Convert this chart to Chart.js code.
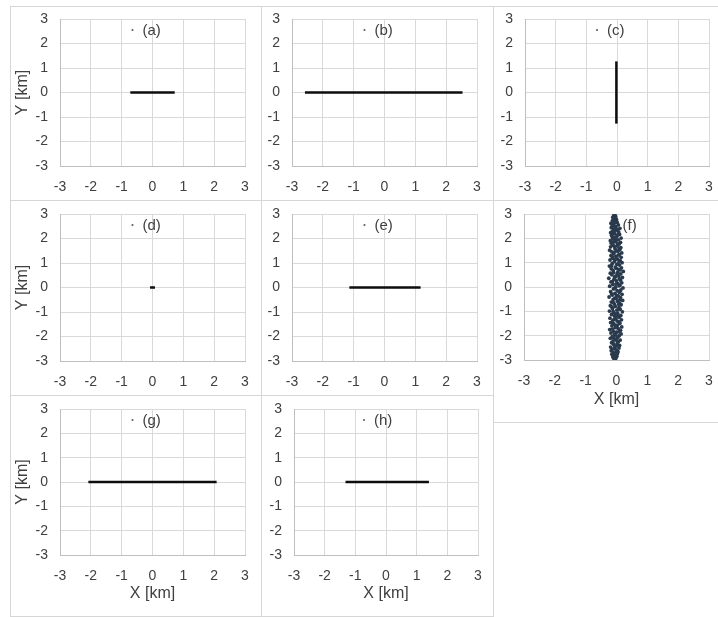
<!DOCTYPE html>
<html>
<head>
<meta charset="utf-8">
<script src="https://cdn.jsdelivr.net/npm/chart.js@4.4.0/dist/chart.umd.min.js"></script>
<style>
body { margin: 0; background: #fff; width: 718px; height: 617px; position: relative; overflow: hidden; }
.box { position: absolute; border: 1px solid #d6d6d6; box-sizing: border-box; }
canvas { position: absolute; }
</style>
</head>
<body>
<script>
// axis range (km)
var axisMin = -3, axisMax = 3, axisStep = 1;

var panelNames = ["(a)", "(b)", "(c)", "(d)", "(e)", "(f)", "(g)", "(h)"];

// line end points
var aX = [-0.72, 0.72];   var aY = [0, 0];
var bX = [-2.58, 2.53];   var bY = [0, 0];
var cX = [-0.02, -0.02];  var cY = [-1.27, 1.27];
var dX = [-0.08, 0.08];   var dY = [0, 0];
var eX = [-1.14, 1.17];   var eY = [0, 0];
var gX = [-2.08, 2.08];   var gY = [0, 0];
var hX = [-1.32, 1.40];   var hY = [0, 0];

// (f) scatter cloud, values estimated by eye
var fX = [
 -0.08,-0.02,-0.12,0.01,-0.06,-0.15,0.03,-0.10,0.05,-0.17,
 -0.01,-0.13,0.08,-0.19,-0.05,0.10,-0.09,0.02,-0.16,0.06,
 -0.11,0.12,-0.03,-0.20,0.04,-0.14,0.09,-0.07,0.15,-0.18,
 0.00,-0.10,0.13,-0.22,0.06,-0.04,0.17,-0.15,0.03,-0.08,
 0.11,-0.19,0.07,-0.12,0.16,-0.02,-0.21,0.09,-0.06,0.14,
 -0.16,0.04,-0.09,0.19,-0.23,0.01,0.12,-0.13,0.08,-0.04,
 -0.20,0.15,-0.07,0.10,-0.17,0.03,0.20,-0.11,-0.01,0.13,
 -0.24,0.06,-0.14,0.18,-0.05,0.09,-0.19,0.02,0.14,-0.10,
 0.21,-0.03,-0.22,0.11,-0.12,0.05,0.17,-0.18,0.00,0.13,
 -0.08,-0.25,0.19,-0.02,0.08,-0.15,0.14,-0.20,0.04,0.22,
 -0.11,0.07,-0.17,0.16,-0.04,-0.23,0.10,0.01,-0.14,0.18,
 -0.07,0.12,-0.21,0.03,-0.12,0.15,-0.02,-0.18,0.09,-0.09,
 0.17,-0.15,0.05,-0.22,0.11,-0.05,0.14,-0.19,0.02,-0.11,
 0.08,-0.17,0.13,-0.03,-0.20,0.06,-0.12,0.15,-0.08,0.01,
 -0.16,0.10,-0.06,-0.19,0.07,-0.13,0.03,-0.09,0.11,-0.17,
 -0.02,-0.14,0.06,-0.10,-0.18,0.02,-0.07,-0.13,0.00,-0.09,
 -0.05,-0.12,-0.03,-0.08,-0.06,
 -0.04,-0.11,-0.01,-0.07,0.00,-0.12,0.01,-0.09,-0.02,0.08,
 -0.13,-0.01,-0.10,0.02,-0.08,0.04,-0.03,-0.11,0.06,-0.15,
 0.07,-0.10,0.10,-0.06,0.00,-0.16,0.11,-0.07,0.08,-0.02,
 -0.13,0.09,-0.06,0.02,-0.09,0.12,-0.01,-0.16,0.05,0.09,
 -0.04,-0.14,0.06,-0.08,-0.01,0.08,-0.07,0.03,-0.10,-0.02,
 -0.13,0.04,-0.11,-0.04,-0.01,-0.07,-0.12,-0.05,-0.10,-0.02,-0.09
];
var fY = [
 -2.97,-2.93,-2.88,-2.85,-2.81,-2.76,-2.74,-2.70,-2.66,-2.62,
 -2.58,-2.55,-2.51,-2.47,-2.44,-2.40,-2.36,-2.33,-2.29,-2.25,
 -2.22,-2.18,-2.15,-2.11,-2.07,-2.04,-2.00,-1.96,-1.93,-1.89,
 -1.86,-1.82,-1.78,-1.75,-1.71,-1.67,-1.64,-1.60,-1.57,-1.53,
 -1.49,-1.46,-1.42,-1.38,-1.35,-1.31,-1.28,-1.24,-1.20,-1.17,
 -1.13,-1.09,-1.06,-1.02,-0.99,-0.95,-0.91,-0.88,-0.84,-0.80,
 -0.77,-0.73,-0.70,-0.66,-0.62,-0.59,-0.55,-0.51,-0.48,-0.44,
 -0.41,-0.37,-0.33,-0.30,-0.26,-0.22,-0.19,-0.15,-0.12,-0.08,
 -0.04,-0.01,0.03,0.07,0.10,0.14,0.17,0.21,0.25,0.28,
 0.32,0.36,0.39,0.43,0.46,0.50,0.54,0.57,0.61,0.64,
 0.68,0.72,0.75,0.79,0.82,0.86,0.90,0.93,0.97,1.00,
 1.04,1.08,1.11,1.15,1.18,1.22,1.26,1.29,1.33,1.36,
 1.40,1.44,1.47,1.51,1.54,1.58,1.62,1.65,1.69,1.72,
 1.76,1.80,1.83,1.87,1.90,1.94,1.98,2.01,2.05,2.08,
 2.12,2.16,2.19,2.23,2.26,2.30,2.34,2.37,2.41,2.44,
 2.48,2.52,2.55,2.59,2.62,2.66,2.70,2.73,2.77,2.80,
 2.84,2.87,2.91,2.94,2.97,
 -2.90,-2.79,-2.68,-2.53,-2.42,-2.31,-2.20,-2.09,-1.98,-1.84,
 -1.73,-1.62,-1.51,-1.40,-1.33,-1.22,-1.11,-1.00,-0.93,-0.82,
 -0.71,-0.64,-0.53,-0.46,-0.35,-0.28,-0.17,-0.06,0.05,0.12,
 0.23,0.34,0.41,0.52,0.59,0.70,0.77,0.88,0.95,1.06,
 1.13,1.24,1.31,1.42,1.49,1.60,1.67,1.78,1.85,1.96,
 2.03,2.14,2.21,2.32,2.39,2.50,2.57,2.64,2.75,2.82,2.89
];

var seriesX = [aX, bX, cX, dX, eX, fX, gX, hX];
var seriesY = [aY, bY, cY, dY, eY, fY, gY, hY];

// frame of each panel: box left, top, right, bottom, then plot left, top, right, bottom
var frames = [
  [10, 6, 261, 200,   60, 19, 245, 166],
  [261, 6, 493, 200,  292, 19, 477, 166],
  [493, 6, 718, 200,  525, 19, 709, 166],
  [10, 200, 261, 395, 60, 214, 245, 361],
  [261, 200, 493, 395, 292, 214, 477, 361],
  [493, 200, 718, 422, 524, 214, 709, 360],
  [10, 395, 261, 616, 60, 409, 245, 555],
  [261, 395, 493, 616, 294, 409, 478, 555]
];
var yTitleOn = [true, false, false, true, false, false, true, false];
var xTitleOn = [false, false, false, false, false, true, true, true];
var tagShift = [-10, -10, -10, -10, -10, 6, -10, -12];

var FONT = "'Liberation Sans', Arial, sans-serif";
var txtColor = "#404040";

// small "legend" text inside the plot, like the Excel one
var panelTag = {
    id: "panelTag",
    afterDatasetsDraw: function (chart, args, opts) {
        var a = chart.chartArea, c = chart.ctx;
        var x = (a.left + a.right) / 2 + opts.shift;
        var y = a.top + 12;
        c.save();
        c.font = "15px " + FONT;
        c.fillStyle = txtColor;
        c.textAlign = "left";
        c.textBaseline = "middle";
        c.fillText(opts.text, x, y);
        if (opts.dot) {
            c.fillStyle = "#606060";
            c.beginPath();
            c.arc(x - 10, y - 1, 1.1, 0, Math.PI * 2);
            c.fill();
        }
        c.restore();
    }
};

frames.forEach(function (fr, i) {
    var box = document.createElement("div");
    box.className = "box";
    box.style.left = fr[0] + "px";
    box.style.top = fr[1] + "px";
    box.style.width = (fr[2] - fr[0] + 1) + "px";
    box.style.height = (fr[3] - fr[1] + 1) + "px";
    document.body.appendChild(box);

    var cv = document.createElement("canvas");
    cv.width = fr[2] - fr[0];
    cv.height = fr[3] - fr[1];
    cv.style.left = fr[0] + "px";
    cv.style.top = fr[1] + "px";
    document.body.appendChild(cv);

    var pts = seriesX[i].map(function (x, k) { return { x: x, y: seriesY[i][k] }; });
    var cloud = (i === 5);

    var ds = cloud ? {
        label: panelNames[i],
        data: pts,
        showLine: false,
        pointRadius: 1.9,
        pointBorderWidth: 0,
        backgroundColor: "#2a3a4d",
        borderColor: "#2a3a4d"
    } : {
        label: panelNames[i],
        data: pts,
        showLine: true,
        borderColor: "#0d0d0d",
        borderWidth: 2.5,
        pointRadius: 0
    };

    new Chart(cv, {
        type: "scatter",
        data: { datasets: [ds] },
        plugins: [panelTag],
        options: {
            responsive: false,
            animation: false,
            layout: { padding: { left: 0, top: fr[5] - fr[1], right: fr[2] - fr[6], bottom: 0 } },
            plugins: {
                legend: { display: false },
                tooltip: { enabled: false },
                panelTag: { text: panelNames[i], shift: tagShift[i], dot: !cloud }
            },
            scales: {
                x: {
                    min: axisMin, max: axisMax,
                    afterFit: function (s) {
                        s.height = fr[3] - fr[7];
                        s.paddingLeft = 0;
                        s.paddingRight = 0;
                    },
                    ticks: { stepSize: axisStep, padding: 13, color: txtColor, font: { family: FONT, size: 14 } },
                    grid: { color: "#d9d9d9", drawTicks: false },
                    border: { color: "#bfbfbf" },
                    title: { display: xTitleOn[i], text: "X [km]", color: txtColor, padding: { top: 0, bottom: 13 }, font: { family: FONT, size: 16 } }
                },
                y: {
                    min: axisMin, max: axisMax,
                    afterFit: function (s) {
                        s.width = fr[4] - fr[0];
                        s.paddingTop = 0;
                        s.paddingBottom = 0;
                    },
                    ticks: { stepSize: axisStep, padding: 12, color: txtColor, font: { family: FONT, size: 14 } },
                    grid: { color: "#d9d9d9", drawTicks: false },
                    border: { color: "#bfbfbf" },
                    title: { display: yTitleOn[i], text: "Y [km]", color: txtColor, padding: { top: 3, bottom: 0 }, font: { family: FONT, size: 16 } }
                }
            }
        }
    });
});
</script>
</body>
</html>
